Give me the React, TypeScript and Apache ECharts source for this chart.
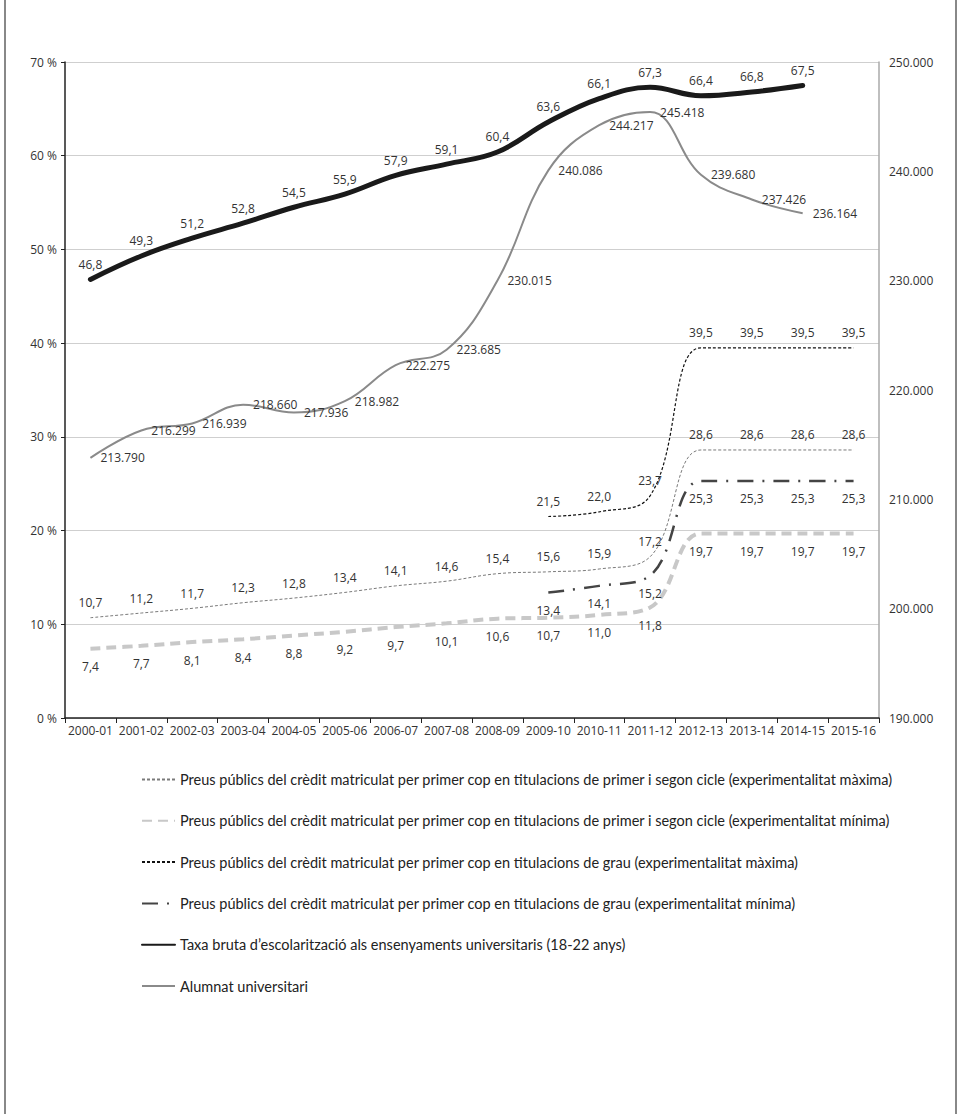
import React, { useEffect, useRef } from "react";
import * as echarts from "echarts";

const categories = [
  "2000-01", "2001-02", "2002-03", "2003-04", "2004-05", "2005-06", "2006-07", "2007-08",
  "2008-09", "2009-10", "2010-11", "2011-12", "2012-13", "2013-14", "2014-15", "2015-16",
];

const primerMax = [10.7, 11.2, 11.7, 12.3, 12.8, 13.4, 14.1, 14.6, 15.4, 15.6, 15.9, 17.2, 28.6, 28.6, 28.6, 28.6];
const primerMin = [7.4, 7.7, 8.1, 8.4, 8.8, 9.2, 9.7, 10.1, 10.6, 10.7, 11.0, 11.8, 19.7, 19.7, 19.7, 19.7];
const grauMax = [null, null, null, null, null, null, null, null, null, 21.5, 22.0, 23.7, 39.5, 39.5, 39.5, 39.5];
const grauMin = [null, null, null, null, null, null, null, null, null, 13.4, 14.1, 15.2, 25.3, 25.3, 25.3, 25.3];
const taxaBruta = [46.8, 49.3, 51.2, 52.8, 54.5, 55.9, 57.9, 59.1, 60.4, 63.6, 66.1, 67.3, 66.4, 66.8, 67.5];
const alumnat = [213790, 216299, 216939, 218660, 217936, 218982, 222275, 223685, 230015, 240086, 244217, 245418, 239680, 237426, 236164];

const leftTicks = { min: 0, max: 70, interval: 10 };
const rightTicks = { min: 190000, max: 250000, interval: 10000 };

const names = [
  "Preus públics del crèdit matriculat per primer cop en titulacions de primer i segon cicle (experimentalitat màxima)",
  "Preus públics del crèdit matriculat per primer cop en titulacions de primer i segon cicle (experimentalitat mínima)",
  "Preus públics del crèdit matriculat per primer cop en titulacions de grau (experimentalitat màxima)",
  "Preus públics del crèdit matriculat per primer cop en titulacions de grau (experimentalitat mínima)",
  "Taxa bruta d’escolarització als ensenyaments universitaris (18-22 anys)",
  "Alumnat universitari",
];

const FONT = "'Open Sans', sans-serif";
const fmtPct = (v: number) => v.toFixed(1).replace(".", ",");
const fmtThousands = (v: number) => String(Math.round(v)).replace(/\B(?=(\d{3})+(?!\d))/g, ".");

export default function App() {
  const ref = useRef<HTMLDivElement>(null);
  useEffect(() => {
    if (!ref.current) return;
    const chart = echarts.init(ref.current, undefined, { renderer: "svg" });
    const labelBase = { show: true, color: "#333", fontFamily: FONT, fontSize: 12 };
    const lineBase = {
      type: "line",
      smooth: 0.4,
      symbol: "circle",
      symbolSize: 0,
      showSymbol: true,
      connectNulls: false,
    };
    chart.setOption({
      animation: false,
      backgroundColor: "#fff",
      grid: { left: 65, right: 82, top: 62, bottom: 396 },
      graphic: [
        { type: "line", shape: { x1: 5, y1: 0, x2: 5, y2: 1114 }, style: { stroke: "#888", lineWidth: 2 } },
        { type: "line", shape: { x1: 956, y1: 0, x2: 956, y2: 1114 }, style: { stroke: "#888", lineWidth: 2 } },
      ],
      legend: {
        orient: "vertical",
        left: 136,
        top: 767,
        itemWidth: 33,
        itemHeight: 14,
        itemGap: 26.3,
        itemStyle: { opacity: 0 },
        textStyle: { fontFamily: "Lato, sans-serif", fontSize: 14.5, color: "#222", lineHeight: 14 },
        data: names,
      },
      xAxis: {
        type: "category",
        data: categories,
        boundaryGap: true,
        axisLine: { lineStyle: { color: "#222", width: 1.5 } },
        axisTick: { show: true, length: 5, lineStyle: { color: "#222" } },
        axisLabel: { interval: 0, margin: 6, color: "#333", fontFamily: FONT, fontSize: 12 },
      },
      yAxis: [
        {
          type: "value",
          ...leftTicks,
          axisLine: { show: true, lineStyle: { color: "#222", width: 1.5 } },
          axisTick: { show: true, length: 4, lineStyle: { color: "#222" } },
          axisLabel: { margin: 8, color: "#333", fontFamily: FONT, fontSize: 12, formatter: (v: number) => `${v} %` },
          splitLine: { show: true, lineStyle: { color: "#cfcfcf", width: 1 } },
        },
        {
          type: "value",
          ...rightTicks,
          position: "right",
          axisLine: { show: true, lineStyle: { color: "#aaa", width: 1.5 } },
          axisTick: { show: false },
          axisLabel: { margin: 10, color: "#333", fontFamily: FONT, fontSize: 12, formatter: (v: number) => fmtThousands(v) },
          splitLine: { show: false },
        },
      ],
      series: [
        {
          ...lineBase,
          name: names[0],
          data: primerMax,
          lineStyle: { color: "#7a7a7a", width: 1, type: [3, 2] },
          itemStyle: { color: "#7a7a7a" },
          label: { ...labelBase, position: "top", distance: 9, formatter: (p: any) => fmtPct(p.value) },
          z: 3,
        },
        {
          ...lineBase,
          name: names[1],
          data: primerMin,
          lineStyle: { color: "#c8c8c8", width: 4, type: [10, 6] },
          itemStyle: { color: "#c8c8c8" },
          label: { ...labelBase, position: "bottom", distance: 12, formatter: (p: any) => fmtPct(p.value) },
          z: 2,
        },
        {
          ...lineBase,
          name: names[2],
          data: grauMax,
          lineStyle: { color: "#111", width: 1.2, type: [3, 2] },
          itemStyle: { color: "#111" },
          label: { ...labelBase, position: "top", distance: 9, formatter: (p: any) => fmtPct(p.value) },
          z: 3,
        },
        {
          ...lineBase,
          name: names[3],
          data: grauMin,
          lineStyle: { color: "#444", width: 2.5, type: [16, 9, 2, 9] },
          itemStyle: { color: "#444" },
          label: { ...labelBase, position: "bottom", distance: 12, formatter: (p: any) => fmtPct(p.value) },
          z: 3,
        },
        {
          ...lineBase,
          name: names[4],
          data: taxaBruta,
          lineStyle: { color: "#1a1a1a", width: 5, cap: "round" },
          itemStyle: { color: "#1a1a1a" },
          label: { ...labelBase, position: "top", distance: 9, formatter: (p: any) => fmtPct(p.value) },
          z: 4,
        },
        {
          ...lineBase,
          name: names[5],
          data: alumnat,
          yAxisIndex: 1,
          lineStyle: { color: "#8a8a8a", width: 2 },
          itemStyle: { color: "#8a8a8a" },
          label: { ...labelBase, position: "right", distance: 10, formatter: (p: any) => fmtThousands(p.value) },
          z: 3,
        },
      ],
    });
    return () => chart.dispose();
  }, []);
  return <div ref={ref} style={{ position: "absolute", left: 0, top: 0, width: 961, height: 1114 }} />;
}
